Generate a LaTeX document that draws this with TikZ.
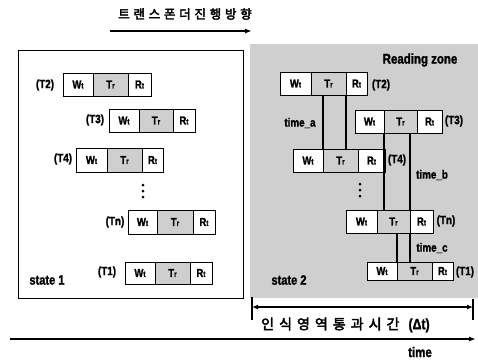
\documentclass[tikz,border=0pt]{standalone}
\usepackage{fontspec}
\setmainfont{Liberation Sans}
\newfontfamily\krfont{Noto Sans CJK KR}[FakeBold=3]
\newfontfamily\cond{Liberation Sans Bold}[FakeStretch=0.82, FakeBold=1.5]
\usetikzlibrary{arrows.meta}
\tikzset{
  cell/.style={draw, line width=1pt, anchor=north west, inner sep=0pt, outer sep=0pt,
    font=\cond\fontsize{11.5}{11.5}\selectfont},
  wcell/.style={cell, fill=white},
  tcell/.style={cell, fill=gray!38},
  lbl/.style={font=\cond\fontsize{12}{12}\selectfont, inner sep=0pt},
  link/.style={line width=1.5pt},
  dotmark/.style={circle, fill=black, inner sep=0pt, minimum size=3pt},
  axis/.style={line width=1.6pt, -{Latex[length=7pt,width=5pt]}},
}
\newcommand\subt[1]{{\fontsize{8}{8}\selectfont #1}}
\newcommand\tagrow[7]{%
  \node[wcell, minimum width={#3-#2}, minimum height={#7-#6}] (#1w) at (#2,#6) {W\subt{t}};
  \node[tcell, minimum width={#4-#3}, minimum height={#7-#6}] (#1t) at (#3,#6) {T\subt{r}};
  \node[wcell, minimum width={#5-#4}, minimum height={#7-#6}] (#1r) at (#4,#6) {R\subt{t}};
}
\begin{document}
\begin{tikzpicture}[x=1pt,y=-1pt]
\useasboundingbox (0,0) rectangle (478,360);
\fill[white] (0,0) rectangle (478,360);

% title
\node[font=\krfont\fontsize{12.5}{13}\selectfont\addfontfeature{LetterSpace=30}, inner sep=0pt] (title) at (185,14) {트랜스폰더진행방향};
\coordinate (ta) at (110,31);
\coordinate (tb) at (252,31);
\draw[axis] (ta) -- (tb);

% left box
\draw[line width=0.8pt] (18,50) rectangle (243,298);
\node[font=\cond\fontsize{13.5}{14}\selectfont, inner sep=0pt] (st1) at (47,280) {state 1};

\tagrow{L2}{63}{93}{128}{151}{73}{96}
\node[lbl] (L2l) at (45,85) {(T2)};
\tagrow{L3}{109}{139}{173}{195}{109}{132}
\node[lbl] (L3l) at (95,120) {(T3)};
\tagrow{L4}{76}{107}{142}{163}{148}{172}
\node[lbl] (L4l) at (63,159) {(T4)};
\node[dotmark] (Ld1) at (143,185) {};
\node[dotmark] (Ld2) at (143,191) {};
\node[dotmark] (Ld3) at (143,197) {};
\tagrow{Ln}{128}{157}{193}{215}{210}{234}
\node[lbl] (Lnl) at (115,222) {(Tn)};
\tagrow{L1}{125}{155}{190}{212}{262}{284}
\node[lbl] (L1l) at (107,272) {(T1)};

% right reading zone
\fill[gray!38] (250,44) rectangle (478,298);
\node[font=\cond\fontsize{14}{14}\selectfont, inner sep=0pt] (rz) at (420,60) {Reading zone};
\node[font=\cond\fontsize{13.5}{14}\selectfont, inner sep=0pt] (st2) at (289,280) {state 2};

\tagrow{R2}{280}{311}{346}{367}{72}{95}
\node[lbl] (R2l) at (381,85) {(T2)};
\tagrow{R3}{355}{384}{417}{442}{110}{133}
\node[lbl] (R3l) at (454,121) {(T3)};
\tagrow{R4}{293}{323}{358}{385}{149}{172}
\node[lbl] (R4l) at (397,160) {(T4)};
\node[dotmark] (Rd1) at (360,184) {};
\node[dotmark] (Rd2) at (360,190) {};
\node[dotmark] (Rd3) at (360,196) {};
\tagrow{Rn}{346}{377}{410}{433}{210}{233}
\node[lbl] (Rnl) at (446,221) {(Tn)};
\tagrow{R1}{367}{397}{432}{453}{262}{280}
\node[lbl] (R1l) at (465,272) {(T1)};

% connectors
\draw[link] (R4t.north west) -- (R4t.north west |- R2t.south);
\draw[link] (R2t.south east) -- (R2t.south east |- R4t.north);
\draw[link] (R3t.south west) -- (R3t.south west |- Rnt.north);
\draw[link] (Rnt.north east) -- (Rnt.north east |- R3t.south);
\draw[link] (R1t.north west) -- (R1t.north west |- Rnt.south);
\draw[link] (Rnt.south east) -- (Rnt.south east |- R1t.north);

\node[lbl] (ta1) at (300,123) {time\_a};
\node[lbl] (tb1) at (432,175) {time\_b};
\node[lbl] (tc1) at (432,248) {time\_c};

% duration
\coordinate (dl) at (252,307);
\coordinate (dr) at (473,307);
\coordinate (dlt) at (252,297);
\coordinate (dlb) at (252,320);
\coordinate (drt) at (473,299);
\coordinate (drb) at (473,320);
\draw[line width=1.4pt] (dlt) -- (dlb);
\draw[line width=1.4pt] (drt) -- (drb);
\draw[line width=1.2pt, {Latex[length=6pt,width=5pt]}-{Latex[length=6pt,width=5pt]}] (dl) -- (dr);
\node[inner sep=0pt, anchor=west] (dur) at (261,325) {{\krfont\fontsize{14}{14}\selectfont\addfontfeature{LetterSpace=36}인식영역통과시간}\hspace{9pt}{\cond\fontsize{15}{15}\selectfont(Δt)}};

% time axis
\coordinate (xa) at (10,339);
\coordinate (xb) at (476,339);
\draw[axis] (xa) -- (xb);
\node[font=\cond\fontsize{14}{14}\selectfont, inner sep=0pt] (tm) at (420,352) {time};
\end{tikzpicture}
\end{document}
